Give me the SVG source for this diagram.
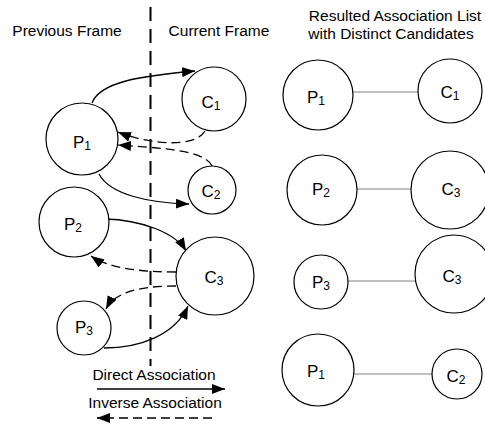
<svg xmlns="http://www.w3.org/2000/svg" width="485" height="427" viewBox="0 0 485 427">
<style>
text{font-family:"Liberation Sans",Arial,sans-serif;fill:#000}
.t{font-size:15.5px}
.l{font-size:17px;text-anchor:middle}
.s{font-size:12px}
.n{fill:#fff;stroke:#000;stroke-width:1.2}
.d{fill:none;stroke:#000;stroke-width:1.3}
.i{fill:none;stroke:#000;stroke-width:1.3;stroke-dasharray:9 5}
.g{stroke:#808080;stroke-width:1}
</style>
<defs>
<marker id="ah" markerUnits="userSpaceOnUse" markerWidth="13" markerHeight="10" refX="13" refY="5" orient="auto">
<path d="M0,0 L13,5 L0,10 z" fill="#000"/>
</marker>
</defs>
<rect width="485" height="427" fill="#fff"/>
<g id="titles">
<text class="t" x="67" y="36" text-anchor="middle">Previous Frame</text>
<text class="t" x="219" y="36" text-anchor="middle">Current Frame</text>
<text class="t" x="395" y="21" text-anchor="middle">Resulted Association List</text>
<text class="t" x="391" y="39" text-anchor="middle">with Distinct Candidates</text>
</g>
<line id="divider" x1="150.5" y1="7" x2="150.5" y2="366" stroke="#000" stroke-width="2" stroke-dasharray="14 8"/>
<g id="connectors">
<path class="d" d="M92,103 C100,82 140,76 195,71" marker-end="url(#ah)"/>
<path class="i" d="M205,131 C195,148 150,145 118,132" marker-end="url(#ah)"/>
<path class="i" d="M212,166 C205,150 160,148 118,145" marker-end="url(#ah)"/>
<path class="d" d="M99,174 C110,195 150,203 189,204" marker-end="url(#ah)"/>
<path class="d" d="M105,219 C140,220 175,232 186,251" marker-end="url(#ah)"/>
<path class="i" d="M176,272 C140,272 108,268 91,256" marker-end="url(#ah)"/>
<path class="i" d="M176,286 C140,286 115,292 106,309" marker-end="url(#ah)"/>
<path class="d" d="M104,348 C140,348 175,335 188,306" marker-end="url(#ah)"/>
<line class="g" x1="353" y1="92" x2="418" y2="92"/>
<line class="g" x1="357" y1="189" x2="411" y2="189"/>
<line class="g" x1="348" y1="281" x2="415" y2="281"/>
<line class="g" x1="354" y1="374" x2="432" y2="374"/>
</g>
<g id="legend">
<text class="t" x="154" y="380" text-anchor="middle">Direct Association</text>
<line class="d" x1="97" y1="389" x2="225" y2="389" marker-end="url(#ah)"/>
<text class="t" x="155" y="408" text-anchor="middle">Inverse Association</text>
<line class="i" x1="212" y1="418" x2="97" y2="418" stroke-dasharray="7 5" marker-end="url(#ah)"/>
</g>
<g id="L_P1"><circle class="n" cx="82" cy="139" r="36"/><text class="l" x="82" y="148">P<tspan class="s" dy="2">1</tspan></text></g>
<g id="L_C1"><circle class="n" cx="214" cy="99" r="32"/><text class="l" x="211" y="108">C<tspan class="s" dy="2">1</tspan></text></g>
<g id="L_C2"><circle class="n" cx="212" cy="190" r="24"/><text class="l" x="211" y="197">C<tspan class="s" dy="2">2</tspan></text></g>
<g id="L_P2"><circle class="n" cx="74" cy="222" r="35"/><text class="l" x="73" y="230">P<tspan class="s" dy="2">2</tspan></text></g>
<g id="L_C3"><circle class="n" cx="215" cy="276" r="39"/><text class="l" x="214" y="283">C<tspan class="s" dy="2">3</tspan></text></g>
<g id="L_P3"><circle class="n" cx="84" cy="328" r="27"/><text class="l" x="84" y="333">P<tspan class="s" dy="2">3</tspan></text></g>
<g id="R1_P1"><circle class="n" cx="318" cy="95" r="35"/><text class="l" x="316" y="103">P<tspan class="s" dy="2">1</tspan></text></g>
<g id="R1_C1"><circle class="n" cx="450" cy="91" r="32"/><text class="l" x="450" y="98">C<tspan class="s" dy="2">1</tspan></text></g>
<g id="R2_P2"><circle class="n" cx="322" cy="190" r="35"/><text class="l" x="321" y="195">P<tspan class="s" dy="2">2</tspan></text></g>
<g id="R2_C3"><circle class="n" cx="450" cy="190" r="39"/><text class="l" x="451" y="195">C<tspan class="s" dy="2">3</tspan></text></g>
<g id="R3_P3"><circle class="n" cx="321" cy="282" r="27"/><text class="l" x="321" y="288">P<tspan class="s" dy="2">3</tspan></text></g>
<g id="R3_C3"><circle class="n" cx="454" cy="274" r="39"/><text class="l" x="452" y="282">C<tspan class="s" dy="2">3</tspan></text></g>
<g id="R4_P1"><circle class="n" cx="318" cy="370" r="36"/><text class="l" x="316" y="377">P<tspan class="s" dy="2">1</tspan></text></g>
<g id="R4_C2"><circle class="n" cx="457" cy="374" r="25"/><text class="l" x="456" y="382">C<tspan class="s" dy="2">2</tspan></text></g>
</svg>
